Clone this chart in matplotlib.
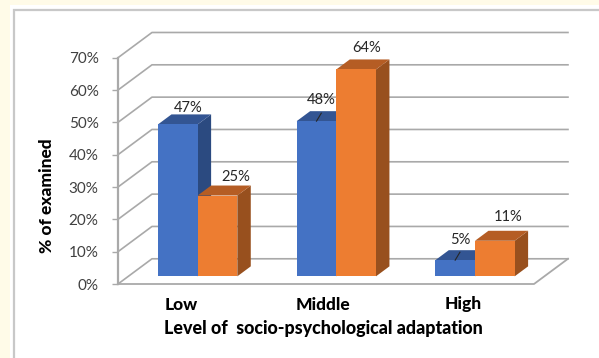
import matplotlib
matplotlib.use("Agg")
import matplotlib.pyplot as plt
from matplotlib.patches import Polygon, Rectangle

categories = ["Low", "Middle", "High"]
blue_values = [47, 48, 5]
orange_values = [25, 64, 11]
y_ticks = [0, 10, 20, 30, 40, 50, 60, 70]
y_tick_labels = ["0%", "10%", "20%", "30%", "40%", "50%", "60%", "70%"]

W, H = 599, 358
plt.rcParams["font.family"] = ["Lato", "DejaVu Sans"]

# depth of the 3d box, in x units and percent
DX = 0.245
DY = 7.8
BAR_W = 0.286
Z_FRONT = 0.304
Z_BACK = 0.70
GRID = "#a9a9a9"


def proj(x, y, z):
    return (x + z * DX, y + z * DY)


def bar3d(ax, left, value, front, side, top):
    right = left + BAR_W
    ax.add_patch(Polygon([proj(right, 0, Z_FRONT), proj(right, 0, Z_BACK),
                          proj(right, value, Z_BACK), proj(right, value, Z_FRONT)],
                         fc=side, ec="none", clip_on=False, zorder=3))
    ax.add_patch(Polygon([proj(left, value, Z_FRONT), proj(right, value, Z_FRONT),
                          proj(right, value, Z_BACK), proj(left, value, Z_BACK)],
                         fc=top, ec="none", clip_on=False, zorder=3))
    ax.add_patch(Polygon([proj(left, 0, Z_FRONT), proj(right, 0, Z_FRONT),
                          proj(right, value, Z_FRONT), proj(left, value, Z_FRONT)],
                         fc=front, ec="none", clip_on=False, zorder=3))


fig = plt.figure(figsize=(W / 100, H / 100), dpi=100, facecolor="#fffbe8")
fig.add_artist(Rectangle((10 / W, 0), 1, 1 - 5 / H, transform=fig.transFigure, fc="white", ec="none", zorder=-3))
fig.add_artist(Rectangle((14 / W, -0.02), 1, 1 - 9.5 / H + 0.02, transform=fig.transFigure,
                         fc="white", ec="#c8c8c8", lw=1.6, zorder=-2))

ax = fig.add_axes([118 / W, 1 - 284 / H, 416 / W, 226.3 / H])
ax.set_xlim(0, 3)
ax.set_ylim(0, 70)
ax.patch.set_visible(False)
for s in ax.spines.values():
    s.set_visible(False)

# back wall, side wall and floor
for v in y_ticks:
    ax.plot(*zip(proj(0, v, 0), proj(0, v, 1), proj(3, v, 1)), color=GRID, lw=1.2, clip_on=False, zorder=1)
ax.plot(*zip(proj(0, 0, 0), proj(3, 0, 0), proj(3, 0, 1)), color=GRID, lw=1.3, clip_on=False, zorder=1)
ax.plot([0, 0], [0, 70], color=GRID, lw=1.6, clip_on=False, zorder=2)

offsets = [0.5 - BAR_W, 1.5 - BAR_W, 2.5 - BAR_W]
blue_dx = [10, 4.5, 5.5]
blue_dy = [16, 21.5, 20]
orange_dx = [18.5, 10, 13]
orange_dy = [19, 21, 23.5]

for i, left in enumerate(offsets):
    bar3d(ax, left, blue_values[i], "#4472c4", "#2b4a80", "#335593")
    bar3d(ax, left + BAR_W, orange_values[i], "#ed7d31", "#98501e", "#b55d24")

    bx, by = proj(left + BAR_W / 2, blue_values[i], Z_FRONT)
    ox, oy = proj(left + BAR_W * 1.5, orange_values[i], Z_FRONT)
    ax.annotate(f"{blue_values[i]}%", (bx, by), xytext=(blue_dx[i], blue_dy[i]), textcoords="offset pixels",
                ha="center", va="center", fontsize=10.6, color="#262626", zorder=5, annotation_clip=False)
    ax.annotate(f"{orange_values[i]}%", (ox, oy), xytext=(orange_dx[i], orange_dy[i]), textcoords="offset pixels",
                ha="center", va="center", fontsize=10.6, color="#262626", zorder=5, annotation_clip=False)

# short leader lines on the two labels that sit away from their bar
for i in (1, 2):
    x = offsets[i] + BAR_W / 2
    ax.plot(*zip(proj(x, blue_values[i], Z_FRONT), proj(x - 0.043, blue_values[i], Z_BACK - 0.08)),
            color="#262626", lw=0.8, clip_on=False, zorder=4)

ax.set_yticks(y_ticks)
ax.set_yticklabels(y_tick_labels, fontsize=11, color="#404040")
ax.tick_params(axis="y", length=4, width=1, color=GRID, pad=10)
ax.set_xticks([0.454, 1.475, 2.49])
ax.set_xticklabels(categories, fontsize=12.5, fontweight="black", color="black")
ax.tick_params(axis="x", length=0, pad=9)

ax.set_xlabel("Level of  socio-psychological adaptation", fontsize=12.9, fontweight="black", color="black")
ax.xaxis.set_label_coords(205 / 416, -36 / 226.3, ax.transAxes)
ax.set_ylabel("% of examined", fontsize=12.5, fontweight="black", color="black")
ax.yaxis.set_label_coords(-63 / 416, 88 / 226.3, ax.transAxes)

fig.savefig("out.png", dpi=100, facecolor=fig.get_facecolor())
